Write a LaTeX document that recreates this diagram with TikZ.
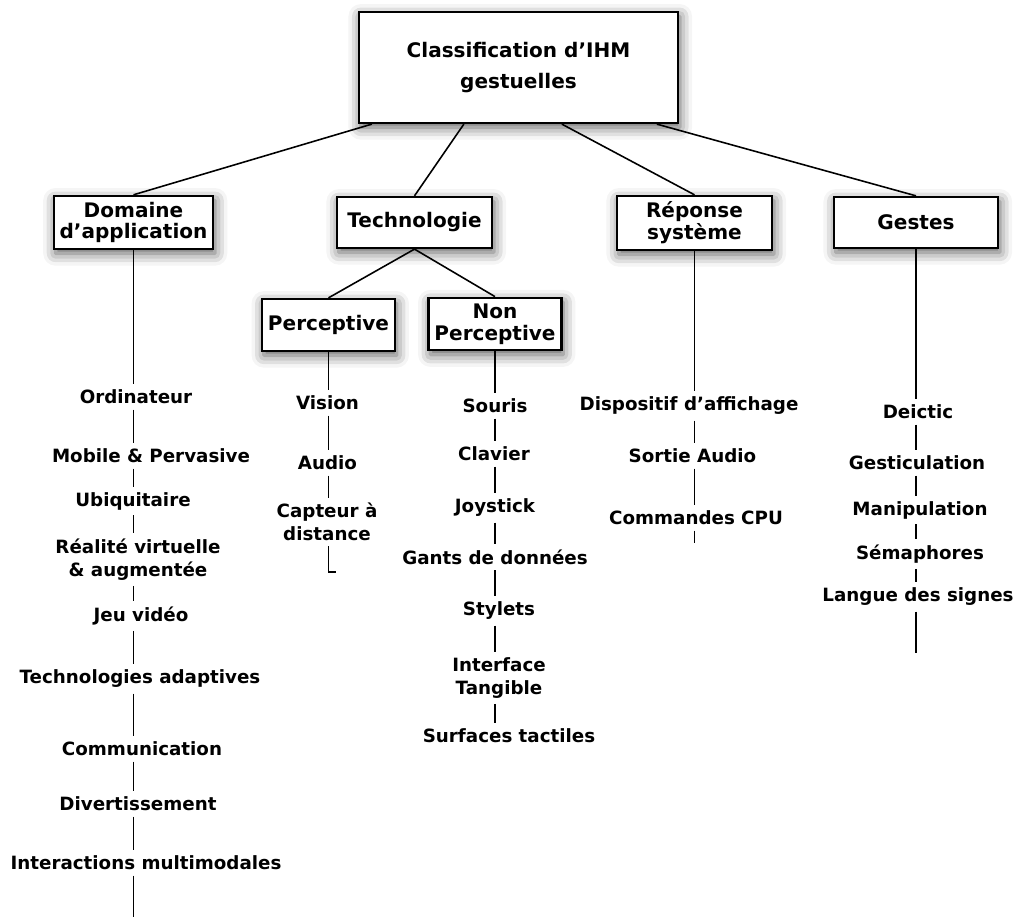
\documentclass[tikz,border=0pt]{standalone}
\usepackage{fontspec}
\setmainfont{DejaVu Sans}
\usetikzlibrary{shadows.blur}

\begin{document}
\begin{tikzpicture}
    \tikzset{
      catbox/.style={shape=rectangle,draw,line width=1.3pt,fill=white,align=center,
        font=\bfseries\fontsize{11.4}{12.5}\selectfont,
        blur shadow={shadow xshift=1pt,shadow yshift=-2.5pt,shadow blur radius=7pt,shadow opacity=65}},
      leaf/.style={align=center,inner sep=3pt,font=\bfseries\fontsize{10.4}{13}\selectfont},
      link/.style={line width=0.9pt}
    }
    \useasboundingbox (0,0) rectangle (20.32,18.42);
    % boxes
    \node[catbox,minimum width=6.38cm,minimum height=2.22cm] (root) at (10.37,17.07) {Classification d’IHM\\[5pt]gestuelles};
    \node[catbox,minimum width=3.1cm,minimum height=1.02cm]  (dom)  at (2.67,13.97)  {Domaine\\d’application};
    \node[catbox,minimum width=3.1cm,minimum height=1.02cm]  (tech) at (8.29,13.97)  {Technologie};
    \node[catbox,minimum width=3.1cm,minimum height=1.04cm]  (rep)  at (13.89,13.96) {Réponse\\système};
    \node[catbox,minimum width=3.28cm,minimum height=1.02cm] (gest) at (18.32,13.97) {Gestes};
    \node[catbox,minimum width=2.5cm,minimum height=1.04cm]  (perc) at (6.57,11.92)  {Perceptive};
    \node[catbox,minimum width=2.48cm,minimum height=1.04cm] (nonp) at (9.90,11.94)  {Non\\Perceptive};

    \draw[link] ([xshift=0.28cm]root.south west) -- (dom.north);
    \draw[link] ([xshift=2.12cm]root.south west) -- (tech.north);
    \draw[link] ([xshift=4.08cm]root.south west) -- (rep.north);
    \draw[link] ([xshift=5.98cm]root.south west) -- (gest.north);
    \draw[link] (tech.south) -- (perc.north);
    \draw[link] (tech.south) -- (nonp.north);

    % domaine d'application
    \node[leaf] (dOrd) at (2.72,10.48) {Ordinateur};
    \node[leaf] (dMob) at (3.02,9.30)  {Mobile \& Pervasive};
    \node[leaf] (dUbi) at (2.66,8.40)  {Ubiquitaire};
    \node[leaf] (dRea) at (2.76,7.23)  {Réalité virtuelle\\\& augmentée};
    \node[leaf] (dJeu) at (2.82,6.10)  {Jeu vidéo};
    \node[leaf] (dTec) at (2.80,4.84)  {Technologies adaptives};
    \node[leaf] (dCom) at (2.84,3.44)  {Communication};
    \node[leaf] (dDiv) at (2.76,2.34)  {Divertissement};
    \node[leaf] (dInt) at (2.92,1.16)  {Interactions multimodales};
    \coordinate (dEnd) at (2.67,0.08);
    \draw[link] (dom.south) -- (dOrd.north -| dom.south);
    \draw[link] (dOrd.south -| dom) -- (dMob.north -| dom);
    \draw[link] (dMob.south -| dom) -- (dUbi.north -| dom);
    \draw[link] (dUbi.south -| dom) -- (dRea.north -| dom);
    \draw[link] (dRea.south -| dom) -- (dJeu.north -| dom);
    \draw[link] (dJeu.south -| dom) -- (dTec.north -| dom);
    \draw[link] (dTec.south -| dom) -- (dCom.north -| dom);
    \draw[link] (dCom.south -| dom) -- (dDiv.north -| dom);
    \draw[link] (dDiv.south -| dom) -- (dInt.north -| dom);
    \draw[link] (dInt.south -| dom) -- (dEnd);

    % perceptive
    \node[leaf] (pVis) at (6.55,10.36) {Vision};
    \node[leaf] (pAud) at (6.55,9.16)  {Audio};
    \node[leaf] (pCap) at (6.54,7.98)  {Capteur à\\distance};
    \coordinate (pEnd) at (6.57,6.98);
    \draw[link] (perc.south) -- (pVis.north -| perc);
    \draw[link] (pVis.south -| perc) -- (pAud.north -| perc);
    \draw[link] (pAud.south -| perc) -- (pCap.north -| perc);
    \draw[link] (pCap.south -| perc) -- (pEnd) -- ++(0.14,0);

    % non perceptive
    \node[leaf] (nSou) at (9.90,10.30) {Souris};
    \node[leaf] (nCla) at (9.88,9.34)  {Clavier};
    \node[leaf] (nJoy) at (9.90,8.26)  {Joystick};
    \node[leaf] (nGan) at (9.90,7.28)  {Gants de données};
    \node[leaf] (nSty) at (9.98,6.20)  {Stylets};
    \node[leaf] (nInt) at (9.98,4.86)  {Interface\\Tangible};
    \node[leaf] (nSur) at (10.18,3.70) {Surfaces tactiles};
    \draw[link] (nonp.south) -- (nSou.north -| nonp);
    \draw[link] (nSou.south -| nonp) -- (nCla.north -| nonp);
    \draw[link] (nCla.south -| nonp) -- (nJoy.north -| nonp);
    \draw[link] (nJoy.south -| nonp) -- (nGan.north -| nonp);
    \draw[link] (nGan.south -| nonp) -- (nSty.north -| nonp);
    \draw[link] (nSty.south -| nonp) -- (nInt.north -| nonp);
    \draw[link] (nInt.south -| nonp) -- (nSur.north -| nonp);

    % reponse systeme
    \node[leaf] (rDis) at (13.78,10.30) {Dispositif d’affichage};
    \node[leaf] (rSor) at (13.85,9.30)  {Sortie Audio};
    \node[leaf] (rCom) at (13.92,8.06)  {Commandes CPU};
    \coordinate (rEnd) at (13.89,7.56);
    \draw[link] (rep.south) -- (rDis.north -| rep);
    \draw[link] (rDis.south -| rep) -- (rSor.north -| rep);
    \draw[link] (rSor.south -| rep) -- (rCom.north -| rep);
    \draw[link] (rCom.south -| rep) -- (rEnd);

    % gestes
    \node[leaf] (gDei) at (18.36,10.18) {Deictic};
    \node[leaf] (gGes) at (18.34,9.16)  {Gesticulation};
    \node[leaf] (gMan) at (18.40,8.22)  {Manipulation};
    \node[leaf] (gSem) at (18.40,7.34)  {Sémaphores};
    \node[leaf] (gLan) at (18.36,6.48)  {Langue des signes};
    \coordinate (gEnd) at (18.32,5.36);
    \draw[link] (gest.south) -- (gDei.north -| gest);
    \draw[link] (gDei.south -| gest) -- (gGes.north -| gest);
    \draw[link] (gGes.south -| gest) -- (gMan.north -| gest);
    \draw[link] (gMan.south -| gest) -- (gSem.north -| gest);
    \draw[link] (gSem.south -| gest) -- (gLan.north -| gest);
    \draw[link] (gLan.south -| gest) -- (gEnd);
\end{tikzpicture}
\end{document}
